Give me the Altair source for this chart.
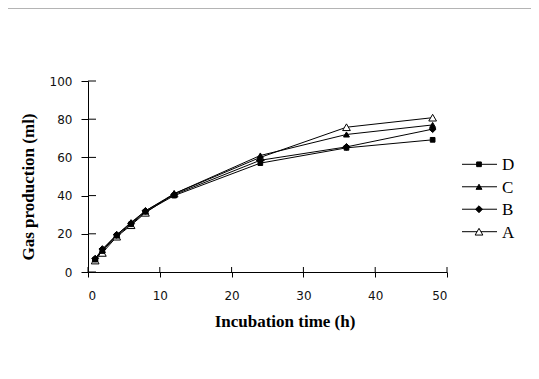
import altair as alt
import pandas as pd

times = [1, 2, 4, 6, 8, 12, 24, 36, 48]
series_a = [6, 10, 18.5, 24.5, 31, 41, 60, 75.8, 80.8]
series_b = [7, 12, 19.5, 25.5, 32, 40.5, 58.5, 65.5, 74.8]
series_c = [7, 11.5, 19.5, 26, 32, 41, 61, 72, 77]
series_d = [6.5, 11, 19, 25, 31.5, 40, 57, 65, 69.2]
legend_order = ["D", "C", "B", "A"]
x_ticks = [0, 10, 20, 30, 40, 50]
y_ticks = [0, 20, 40, 60, 80, 100]

rows = []
for name, vals in [("A", series_a), ("B", series_b), ("C", series_c), ("D", series_d)]:
    for t, v in zip(times, vals):
        rows.append({"time": t, "gas": v, "series": name})
df = pd.DataFrame(rows)
xt = pd.DataFrame({"time": x_ticks})
yt = pd.DataFrame({"gas": y_ticks})
leg = pd.DataFrame({"series": legend_order})

shape_scale = alt.Scale(domain=legend_order, range=["square", "triangle-up", "diamond", "triangle-up"])
fill_scale = alt.Scale(domain=legend_order, range=["black", "black", "black", "white"])
size_scale = alt.Scale(domain=legend_order, range=[22, 60, 55, 60])

xs = alt.Scale(domain=[0, 50], nice=False, zero=False)
ys = alt.Scale(domain=[0, 100], nice=False)

x_axis = alt.Axis(values=x_ticks, grid=False, tickSize=5, labelPadding=13,
                  labelFont="DejaVu Sans", labelFontSize=12, labelColor="#111",
                  title="Incubation time (h)", titleFont="Liberation Serif",
                  titleFontSize=17, titleFontWeight="bold", titleColor="black",
                  titleX=196.5, titleY=54, titleAlign="center", titleBaseline="alphabetic")
y_axis = alt.Axis(values=y_ticks, grid=False, tickSize=7, labelPadding=9,
                  labelFont="DejaVu Sans", labelFontSize=12, labelColor="#111",
                  title="Gas production (ml)", titleFont="Liberation Serif",
                  titleFontSize=17, titleFontWeight="bold", titleColor="black",
                  titleAngle=270, titleX=-55, titleY=105.5, titleAlign="center",
                  titleBaseline="alphabetic")

X = alt.X("time:Q", scale=xs, axis=x_axis)
Y = alt.Y("gas:Q", scale=ys, axis=y_axis)

lines = alt.Chart(df).mark_line(color="black", strokeWidth=1, interpolate="linear").encode(
    x=X, y=Y, detail="series:N",
)

points = alt.Chart(df).mark_point(filled=True, stroke="black", strokeWidth=1, opacity=1).encode(
    x=X, y=Y,
    shape=alt.Shape("series:N", scale=shape_scale, legend=None),
    fill=alt.Fill("series:N", scale=fill_scale, legend=None),
    size=alt.Size("series:N", scale=size_scale, legend=None),
)

x_inner = alt.Chart(xt).mark_rule(color="black", strokeWidth=1).encode(
    x=X, y=alt.value(186), y2=alt.value(191),
)
y_inner = alt.Chart(yt).mark_rule(color="black", strokeWidth=1).encode(
    y=Y, x=alt.value(0), x2=alt.value(8),
)

main = alt.layer(lines, x_inner, y_inner, points)

leg_y = alt.Y("series:N", scale=alt.Scale(type="point", domain=legend_order,
                                          range=[83.3, 150.7], padding=0), axis=None)
leg_rule = alt.Chart(leg).mark_rule(color="black", strokeWidth=1).encode(
    y=leg_y, x=alt.value(374), x2=alt.value(409))
leg_pts = alt.Chart(leg).mark_point(filled=True, stroke="black", strokeWidth=1, opacity=1).encode(
    y=leg_y, x=alt.value(391),
    shape=alt.Shape("series:N", scale=shape_scale, legend=None),
    fill=alt.Fill("series:N", scale=fill_scale, legend=None),
    size=alt.Size("series:N", scale=size_scale, legend=None),
)
leg_txt = alt.Chart(leg).mark_text(align="left", baseline="middle", font="Liberation Serif",
                                   fontSize=17, color="black", dy=1).encode(
    y=leg_y, x=alt.value(414), text="series:N")

top_line = alt.Chart(pd.DataFrame({"a": [0]})).mark_rule(color="#b4b4b4", strokeWidth=1).encode(
    x=alt.value(-80), x2=alt.value(443), y=alt.value(-72.5))

chart = alt.layer(main, leg_rule, leg_pts, leg_txt, top_line).resolve_scale(
    y="independent"
).properties(
    width=359, height=191,
    padding={"left": 80, "top": 73, "right": 84, "bottom": 99},
    autosize="none",
).configure_view(stroke=None).configure_axis(
    domainColor="black", tickColor="black", domainWidth=1, tickWidth=1
)

chart.save("out.html", embed_options={"renderer": "svg", "actions": False})
